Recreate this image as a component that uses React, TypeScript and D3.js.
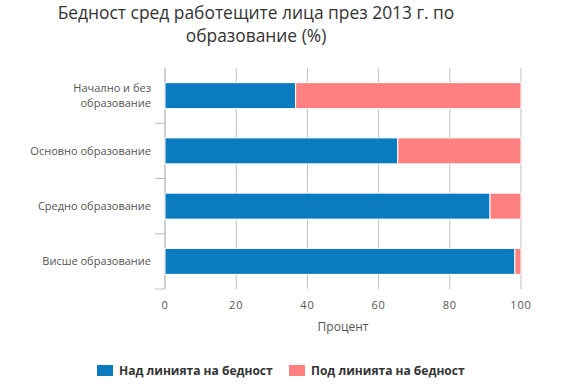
import React from "react";
import * as d3 from "d3";

const categories = ["Начално и без образование", "Основно образование", "Средно образование", "Висше образование"];
const categoryLines = [["Начално и без", "образование"], ["Основно образование"], ["Средно образование"], ["Висше образование"]];
const aboveValues = [36.7, 65.4, 91.3, 98.3];
const belowValues = [63.3, 34.6, 8.7, 1.7];
const seriesNames = ["Над линията на бедност", "Под линията на бедност"];
const xTicks = [0, 20, 40, 60, 80, 100];
const titleLines = ["Бедност сред работещите лица през 2013 г. по", "образование (%)"];
const xTitle = "Процент";

const W = 564, H = 391;
const left = 165, right = 521, top = 68, bottom = 289;
const colors = ["#0a7bbf", "#ff8080"];
const font = "'Open Sans', sans-serif";

export default function App() {
  const x = d3.scaleLinear().domain([0, 100]).range([left, right]);
  const y = d3.scaleBand().domain(categories).range([top, bottom]).paddingInner(0.53).paddingOuter(0.265);
  const band = d3.scaleBand().domain(categories).range([top, bottom]);
  const stack = categories.map((c, i) => [aboveValues[i], belowValues[i]]);
  return (
    <svg width={W} height={H} style={{ position: "absolute", left: 0, top: 0, fontFamily: font }}>
      <rect width={W} height={H} fill="#fff" />
      {titleLines.map((t, i) => (
        <text key={i} x={256} y={19 + i * 23} textAnchor="middle" fontSize={17.4} fill="#333">{t}</text>
      ))}
      {xTicks.map((t) => (
        <line key={t} x1={x(t)} x2={x(t)} y1={top} y2={bottom} stroke="#c0c0c0" strokeWidth={1} />
      ))}
      <line x1={left} x2={left} y1={top} y2={bottom} stroke="#c0c0c0" />
      {categories.map((c, i) => (
        <line key={c} x1={left - 10} x2={left} y1={(band(c) as number) + band.bandwidth()} y2={(band(c) as number) + band.bandwidth()} stroke="#c0c0c0" />
      ))}
      {categories.map((c, i) => {
        let acc = 0;
        return stack[i].map((v, j) => {
          const x0 = x(acc);
          acc += v;
          const x1 = x(acc);
          return (
            <rect key={c + j} x={x0} y={y(c)} width={Math.max(0, x1 - x0)} height={y.bandwidth()} fill={colors[j]} stroke="#fff" strokeWidth={1} />
          );
        });
      })}
      {categories.map((c, i) => {
        const cy = (band(c) as number) + band.bandwidth() / 2;
        const lines = categoryLines[i];
        return lines.map((l, k) => (
          <text key={c + k} x={151} y={cy + 4 + (k - (lines.length - 1) / 2) * 15} textAnchor="end" fontSize={11} fill="#555">{l}</text>
        ));
      })}
      {xTicks.map((t) => (
        <text key={t} x={x(t)} y={309} textAnchor="middle" fontSize={11} fill="#555" letterSpacing={0.8}>{t}</text>
      ))}
      <text x={(left + right) / 2} y={331} textAnchor="middle" fontSize={12} fill="#555">{xTitle}</text>
      {seriesNames.map((s, i) => (
        <g key={s} transform={`translate(${i === 0 ? 97 : 289},0)`}>
          <rect x={0} y={365} width={16} height={11} fill={colors[i]} />
          <text x={22} y={375} fontSize={12} fontWeight="bold" fill="#333">{s}</text>
        </g>
      ))}
    </svg>
  );
}
